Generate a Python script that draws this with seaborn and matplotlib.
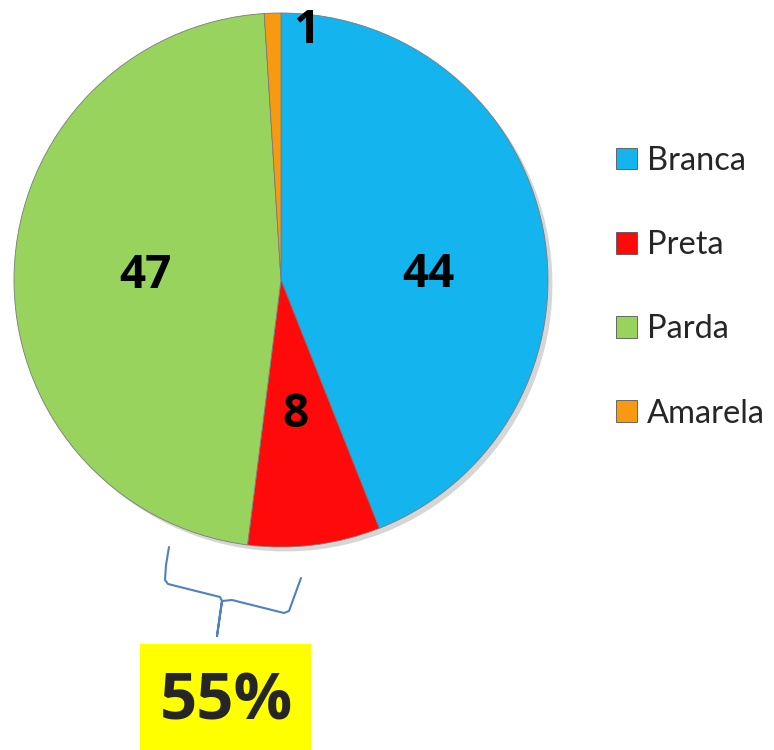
import numpy as np
import pandas as pd
import seaborn as sns
import matplotlib.pyplot as plt
from matplotlib.lines import Line2D
from matplotlib.patches import Rectangle

categories = ["Branca", "Preta", "Parda", "Amarela"]
values = [44, 8, 47, 1]
colors = ["#14B4EE", "#FF0A0A", "#98D35E", "#F79A12"]
highlight_text = "55%"

sns.set_style("white")
plt.rcParams['font.family'] = ['Lato', 'DejaVu Sans']

df = pd.DataFrame({"cor": categories, "valor": values})

fig = plt.figure(figsize=(7.74, 7.5), dpi=100)
W, H = 774, 750
# pie axes: centre (281,280) px, radius 267 px
ax = fig.add_axes([(281 - 267) / W, (H - 280 - 267) / H, 534 / W, 534 / H])

wedges, texts, autotexts = ax.pie(
    df["valor"], colors=colors, startangle=90, counterclock=False,
    autopct=lambda p: "%d" % round(p), pctdistance=0.54,
    wedgeprops=dict(edgecolor="#7a7a7a", linewidth=0.6),
    shadow=dict(ox=0.012, oy=-0.012, facecolor="0.55", edgecolor="none", alpha=0.35),
    textprops=dict(fontsize=33, fontweight="bold", color="black",
                   family=["Open Sans", "DejaVu Sans"]))
ax.set_xlim(-1, 1)
ax.set_ylim(-1, 1)
ax.set_aspect("equal")
ax.axis("off")

# label placement as in the original
label_pos = [(0.551, 0.019), (0.056, -0.502), (-0.506, 0.015), (0.095, 0.935)]
for t, p in zip(autotexts, label_pos):
    t.set_position(p)

leg = fig.legend(wedges, df["cor"], loc="upper left",
                 bbox_to_anchor=(603 / W, 1 - 133 / H), frameon=False,
                 fontsize=23.5, handlelength=0.65, handleheight=0.65,
                 handletextpad=0.3, labelspacing=1.66, borderaxespad=0)
for h in leg.legend_handles:
    h.set_edgecolor("#555555")
    h.set_linewidth(0.6)

# curly brace under the Parda/Preta boundary
bx = [169, 166, 165, 168, 220, 222, 217, 222, 232, 284, 289, 301]
by = [547, 565, 580, 584, 597, 601, 636, 601, 600, 613, 611, 578]
fig.add_artist(Line2D([x / W for x in bx], [1 - y / H for y in by],
                      color="#4F81BD", linewidth=1.5, solid_joinstyle="round"))

fig.add_artist(Rectangle((140 / W, 0), (311 - 140) / W, (H - 644) / H,
                         transform=fig.transFigure, facecolor="#FFFF00",
                         edgecolor="none"))
fig.text(226 / W, 1 - 703 / H, highlight_text, fontsize=47, fontweight="bold",
         ha="center", va="center", family=["Open Sans", "DejaVu Sans"])

fig.savefig("out.png", dpi=100)
